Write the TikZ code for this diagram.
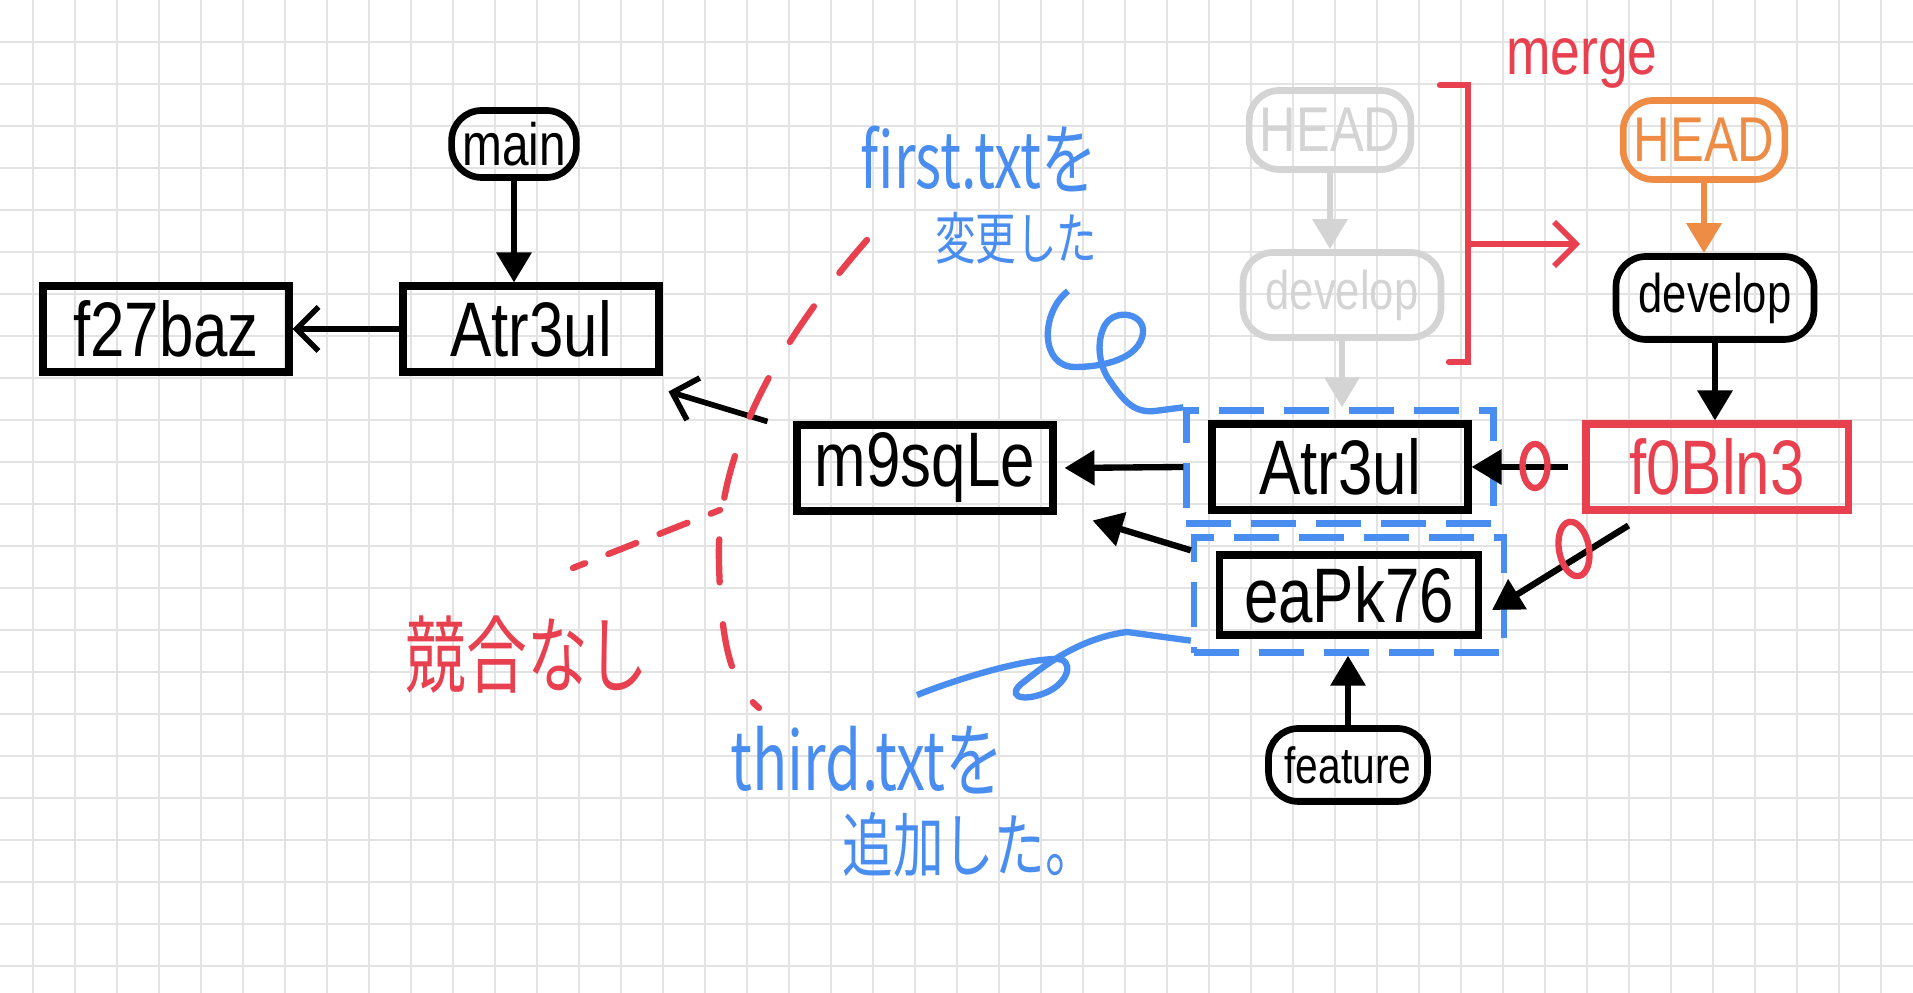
\documentclass[tikz,border=0pt]{standalone}
\usepackage{fontspec}
\setmainfont{Liberation Sans}
\newfontfamily\handfont[FakeStretch=0.8]{Liberation Sans}
\newfontfamily\jpfont[FakeStretch=0.72]{Noto Sans CJK JP}
\usetikzlibrary{arrows.meta,calc,positioning,fit,shapes.geometric}
\definecolor{NoteGrid}{HTML}{E3E3E3}
\definecolor{NoteRed}{HTML}{E8404E}
\definecolor{NoteBlue}{HTML}{4A8DF0}
\definecolor{NoteOrange}{HTML}{EE8B45}
\definecolor{NoteGray}{HTML}{D4D4D4}

\begin{document}
\begin{tikzpicture}[
  x=1cm,y=1cm,
  gridline/.style={draw=NoteGrid,line width=0.6pt},
  commit/.style={draw=black,line width=2pt,minimum width=2.56cm,
    minimum height=0.86cm,inner sep=0pt,
    font=\handfont\fontsize{22}{24}\selectfont},
  branch/.style={draw=black,line width=1.9pt,rounded corners=0.3cm,
    minimum height=0.76cm,inner xsep=3pt,inner ysep=2pt},
  ghost/.style={branch,draw=NoteGray,text=NoteGray},
  parent/.style={-{Triangle[length=0.3cm,width=0.34cm]},line width=1.8pt},
  oldparent/.style={-{Straight Barb[length=0.22cm,width=0.44cm]},line width=1.6pt},
  changed/.style={draw=NoteBlue,dash pattern=on 0.45cm off 0.2cm,
    line width=1.8pt,inner xsep=0.22cm},
  memo/.style={draw=NoteBlue,line width=1.8pt},
  memotext/.style={text=NoteBlue,inner sep=0pt},
  boundary/.style={draw=NoteRed,line width=1.8pt,line cap=round},
  okmark/.style={draw=NoteRed,ellipse,line width=1.8pt,inner sep=0pt}
]

\newcommand{\branchfont}[1]{\handfont\fontsize{#1}{#1}\selectfont}

\fill[white] (0,0) rectangle (19.13,9.93);
\useasboundingbox (0,0) rectangle (19.13,9.93);

% notebook grid
\foreach \gx in {0,...,44}
  \draw[gridline] (0.33+0.42*\gx,0) -- (0.33+0.42*\gx,9.93);
\foreach \gy in {0,...,22}
  \draw[gridline] (0,9.513-0.42*\gy) -- (19.13,9.513-0.42*\gy);

% commits
\node[commit,minimum width=2.46cm] (f27) at (1.66,6.64) {f27baz};
\node[commit] (atrA) at (5.31,6.64) {Atr3ul};
\node[commit] (m9) at (9.25,5.25) {m9sqLe};
\node[commit] (atrB) at (13.40,5.26) {Atr3ul};
\node[commit,minimum width=2.59cm,minimum height=0.8cm] (eaPk) at (13.49,3.98) {eaPk76};
\node[commit,draw=NoteRed,text=NoteRed,minimum width=2.62cm] (f0) at (17.17,5.26) {f0Bln3};

\node[changed,inner ysep=0.1cm,fit=(atrB)] (blockA) {};
\node[changed,inner ysep=0.14cm,fit=(eaPk)] (blockB) {};

% branches
\node[branch,minimum width=1.24cm,minimum height=0.67cm,font=\branchfont{17}] (main) at (5.14,8.49) {main};
\node[ghost,minimum width=1.59cm,minimum height=0.79cm,font=\branchfont{18}] (headG) at (13.30,8.63) {HEAD};
\node[ghost,minimum width=1.98cm,minimum height=0.85cm,font=\branchfont{15.5}] (devG) at (13.42,6.98) {develop};
\node[branch,draw=NoteOrange,text=NoteOrange,minimum width=1.53cm,minimum height=0.79cm,font=\branchfont{18}] (headO) at (17.04,8.53) {HEAD};
\node[branch,minimum width=1.98cm,minimum height=0.83cm,font=\branchfont{15.5}] (devO) at (17.15,6.95) {develop};
\node[branch,minimum width=1.59cm,minimum height=0.73cm,font=\branchfont{14.5}] (feat) at (13.48,2.28) {feature};

\draw[parent] (main.south) -- (main.south |- atrA.north);
\draw[oldparent] (atrA.west) -- (f27.east);
\draw[oldparent] ([xshift=-0.26cm]m9.north west) -- ([xshift=0.06cm,yshift=-0.16cm]atrA.south east);
\draw[parent] (blockA.west) -- ([xshift=0.08cm]m9.east);
\draw[parent] ([yshift=-0.16cm]blockB.north west) -- ([xshift=0.36cm,yshift=-0.06cm]m9.south east);
\draw[parent] (feat.north) -- (feat.north |- blockB.south);
\draw[parent,draw=NoteGray] (headG.south) -- (headG.south |- devG.north);
\draw[parent,draw=NoteGray] (devG.south) -- (devG.south |- blockA.north);
\draw[parent,draw=NoteOrange] (headO.south) -- (headO.south |- devO.north);
\draw[parent] (devO.south) -- (devO.south |- f0.north);
\draw[parent] ([xshift=-0.14cm]f0.west) -- (atrB.east);
\draw[parent] ([xshift=0.46cm,yshift=-0.12cm]f0.south west) -- ([xshift=0.1cm,yshift=-0.15cm]eaPk.east);

\node[okmark,minimum width=0.25cm,minimum height=0.44cm] (okA) at (15.35,5.27) {};
\node[okmark,minimum width=0.3cm,minimum height=0.55cm,rotate=10] (okB) at (15.74,4.44) {};

% merge bracket
\coordinate (mergeTop) at (14.68,9.08);
\coordinate (mergeBot) at (14.68,6.31);
\coordinate (mergeMid) at (14.68,7.49);
\coordinate (mergeTo) at (15.80,7.49);
\draw[boundary] ([xshift=-0.28cm]mergeTop) -- (mergeTop) -- (mergeBot) -- ([xshift=-0.19cm]mergeBot);
\draw[oldparent,draw=NoteRed] (mergeMid) -- (mergeTo);
\node[text=NoteRed,font=\handfont\fontsize{19}{20}\selectfont] (merge) at (15.82,9.30) {merge};

% notes
\node[memotext,anchor=east,align=right,font=\jpfont\fontsize{22}{20}\selectfont] (firstNote) at (10.98,7.98)
  {first.txtを\\{\fontsize{16}{20}\selectfont 変更した}};
\node[memotext,anchor=west,align=left,font=\jpfont\fontsize{23}{23}\selectfont] (thirdNote) at (7.30,1.91)
  {third.txtを\\{\fontsize{20}{23}\selectfont\hspace*{1.12cm}追加した。}};
\node[text=NoteRed,font=\jpfont\fontsize{24}{26}\selectfont] (noConflict) at (5.27,3.38) {競合なし};

\coordinate (memoA) at (10.68,7.02);
\coordinate (memoB) at (9.17,2.98);
\draw[memo] (memoA) .. controls (10.40,6.80) and (10.40,6.26) .. (10.75,6.26)
  .. controls (11.05,6.26) and (11.40,6.35) .. (11.43,6.60)
  .. controls (11.45,6.80) and (11.15,6.85) .. (11.05,6.68)
  .. controls (10.95,6.50) and (11.00,6.25) .. (11.10,6.12)
  .. controls (11.25,5.90) and (11.35,5.80) .. (11.55,5.82)
  -- (blockA.north west);
\draw[memo] (memoB) .. controls (9.60,3.15) and (10.20,3.33) .. (10.55,3.34)
  .. controls (10.75,3.35) and (10.70,3.10) .. (10.45,3.00)
  .. controls (10.20,2.90) and (10.05,2.98) .. (10.25,3.12)
  .. controls (10.45,3.28) and (10.80,3.55) .. (11.27,3.61)
  -- ([yshift=0.15cm]blockB.south west);

% no-conflict boundary
\draw[boundary,dash pattern=on 0.43cm off 0.42cm] (8.67,7.53) .. controls (7.90,6.65) and (7.15,5.50) .. (7.19,4.30)
  .. controls (7.21,3.50) and (7.30,3.10) .. (7.59,2.85);
\draw[boundary,dash pattern=on 0.3cm off 0.25cm,dash phase=0.2cm] (7.20,4.83) -- (5.73,4.25);

\end{tikzpicture}
\end{document}
